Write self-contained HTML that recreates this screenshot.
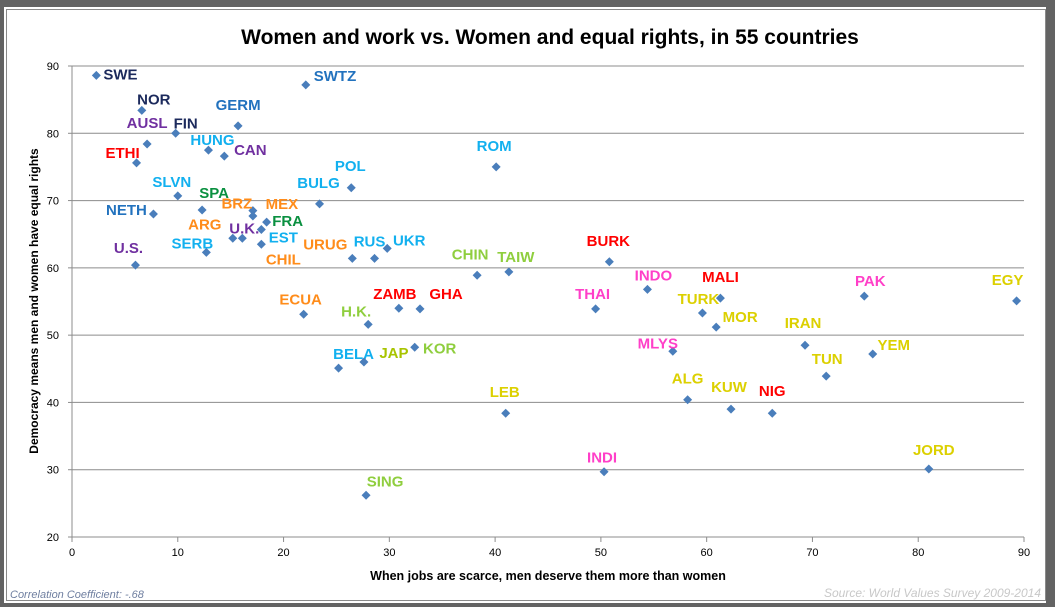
<!DOCTYPE html>
<html><head><meta charset="utf-8"><style>
html,body{margin:0;padding:0;background:#636363;width:1055px;height:607px;overflow:hidden}
#frame{position:absolute;left:4px;top:7px;width:1042px;height:596px;background:#fff}
#inner{position:absolute;left:2px;top:2px;right:0;bottom:2px;border-left:1px solid #8a8a8a;border-top:1px solid #8a8a8a;border-bottom:1px solid #8a8a8a;border-right:1px solid #8a8a8a}
svg{position:absolute;left:0;top:0}
text{font-family:"Liberation Sans",sans-serif}
</style></head><body>
<div id="frame"><div id="inner"></div></div>
<svg id="chart" width="1055" height="607"></svg>
<script>
const countries=["SWE","SWTZ","NOR","GERM","FIN","AUSL","HUNG","CAN","ETHI","ROM","POL","SLVN","BULG","SPA","NETH","BRZ","MEX","FRA","EST","ARG","U.K.","CHIL","SERB","U.S.","URUG","RUS","UKR","CHIN","TAIW","BURK","INDO","MALI","PAK","EGY","THAI","TURK","MOR","ECUA","ZAMB","GHA","H.K.","MLYS","IRAN","YEM","TUN","BELA","JAP","KOR","ALG","KUW","NIG","LEB","INDI","JORD","SING"];
const jobsValues=[2.3,22.1,6.6,15.7,9.8,7.1,12.9,14.4,6.1,40.1,26.4,10.0,23.4,12.3,7.7,17.1,17.1,18.4,17.9,15.2,16.1,17.9,12.7,6.0,26.5,28.6,29.8,38.3,41.3,50.8,54.4,61.3,74.9,89.3,49.5,59.6,60.9,21.9,30.9,32.9,28.0,56.8,69.3,75.7,71.3,25.2,27.6,32.4,58.2,62.3,66.2,41.0,50.3,81.0,27.8];
const rightsValues=[88.6,87.2,83.4,81.1,80.0,78.4,77.5,76.6,75.6,75.0,71.9,70.7,69.5,68.6,68.0,68.5,67.7,66.8,65.7,64.4,64.4,63.5,62.3,60.4,61.4,61.4,62.9,58.9,59.4,60.9,56.8,55.5,55.8,55.1,53.9,53.3,51.2,53.1,54.0,53.9,51.6,47.6,48.5,47.2,43.9,45.1,46.0,48.2,40.4,39.0,38.4,38.4,29.7,30.1,26.2];
const xTicks=[0,10,20,30,40,50,60,70,80,90];
const yTicks=[20,30,40,50,60,70,80,90];
// label styling (offsets in px from marker, colour)
const NV="#1c2a5c",BL="#2272be",CY="#12b0ef",PU="#7030a0",RD="#ff0000",OR="#ff8c1a",GR="#0a9040",LG="#8fce3e",MG="#ff3fc8",YE="#dcd000";
const labelStyle=[[7,4,NV,"start"],[8,-4,BL,"start"],[12,-6,NV],[0,-16,BL],[10,-5,NV],[0,-16,PU],[4,-5,CY],[26,-1,PU],[-14,-5,RD],[-2,-16,CY],[-1,-17,CY],[-6,-9,CY],[-1,-16,CY],[12,-12,GR],[-27,1,BL],[-16,-2,OR],[29,-7,OR],[21,4,GR],[22,13,CY],[-28,-9,OR],[2,-5,PU],[22,20,OR],[-14,-4,CY],[-7,-12,PU],[-27,-9,OR],[-5,-12,CY],[22,-3,CY],[-7,-16,LG],[7,-10,LG],[-1,-16,RD],[6,-9,MG],[0,-16,RD],[6,-10,MG],[-9,-16,YE],[-3,-10,MG],[-4,-9,YE],[24,-5,YE],[-3,-10,OR],[-4,-9,RD],[26,-10,RD],[-12,-8,LG],[-15,-3,MG],[-2,-17,YE],[21,-4,YE],[1,-12,YE],[15,-9,CY],[30,-4,"#a8c400"],[25,6,LG],[0,-16,YE],[-2,-17,YE],[0,-17,RD],[-1,-16,YE],[-2,-9,MG],[5,-14,YE],[19,-9,LG]];
const X0=72,X1=1024,Y0=537,Y1=66;
const xs=v=>X0+(v-0)/90*(X1-X0);
const ys=v=>Y0-(v-20)/70*(Y0-Y1);
const svg=document.getElementById('chart');
const NS="http://www.w3.org/2000/svg";
function mk(t,a){const e=document.createElementNS(NS,t);for(const k in a)e.setAttribute(k,a[k]);svg.appendChild(e);return e;}
yTicks.forEach(t=>{
  if(t>20){const g=mk('line',{x1:X0,x2:X1,y1:ys(t),y2:ys(t),stroke:'#8c8c8c','stroke-width':1});
  
  }
  const l=mk('text',{x:X0-13,y:ys(t)+4,'text-anchor':'end','font-size':11,fill:'#000'});l.textContent=t;
  
  
  const tk=mk('line',{x1:X0-4,x2:X0,y1:ys(t),y2:ys(t),stroke:'#8c8c8c'});
  
  
});
xTicks.forEach(t=>{
  const tk=mk('line',{x1:xs(t),x2:xs(t),y1:Y0,y2:Y0+5,stroke:'#8c8c8c'});
  
  
  const l=mk('text',{x:xs(t),y:Y0+19,'text-anchor':'middle','font-size':11,fill:'#000'});l.textContent=t;
  
  
});
const ax=mk('line',{x1:X0,x2:X0,y1:Y1,y2:Y0,stroke:'#8c8c8c'});


const bx=mk('line',{x1:X0,x2:X1,y1:Y0,y2:Y0,stroke:'#8c8c8c'});


countries.forEach((c,i)=>{
  const px=xs(jobsValues[i]),py=ys(rightsValues[i]);
  const d=mk('path',{d:`M${px} ${py-4.5}L${px+4.5} ${py}L${px} ${py+4.5}L${px-4.5} ${py}Z`,fill:'#4a7ebb'});
  
  
  const s=labelStyle[i];
  const t=mk('text',{x:px+s[0],y:py+s[1],'text-anchor':s[3]||'middle','font-size':15,'font-weight':'bold',fill:s[2]});
  t.textContent=c;
  
  
});
const ti=mk('text',{x:550,y:44,'text-anchor':'middle','font-size':21,'font-weight':'bold',fill:'#000'});ti.textContent="Women and work vs. Women and equal rights, in 55 countries";


const xt=mk('text',{x:548,y:580,'text-anchor':'middle','font-size':12.5,'font-weight':'bold',fill:'#000'});xt.textContent="When jobs are scarce, men deserve them more than women";


const yt=mk('text',{x:0,y:0,'text-anchor':'middle','font-size':12,'font-weight':'bold',fill:'#000',transform:'translate(38,301) rotate(-90)'});yt.textContent="Democracy means men and women have equal rights";


const cc=mk('text',{x:10,y:598,'font-size':11,'font-style':'italic',fill:'#6f7fa0'});cc.textContent="Correlation Coefficient: -.68";


const so=mk('text',{x:1041,y:597,'text-anchor':'end','font-size':12,'font-style':'italic',fill:'#c8c8c8'});so.textContent="Source: World Values Survey 2009-2014";


</script>
</body></html>
